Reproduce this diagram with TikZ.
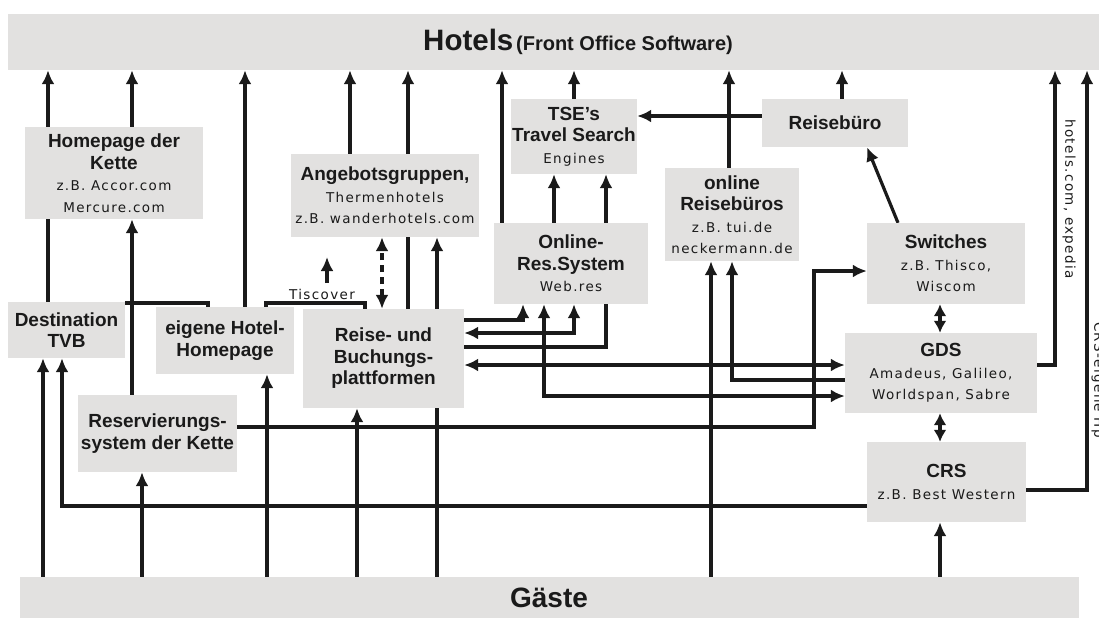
\documentclass[tikz,border=0pt]{standalone}
\usepackage{fontspec}
\setmainfont{Liberation Sans}
\newfontfamily\subfnt[LetterSpace=10]{DejaVu Sans}
\usetikzlibrary{arrows.meta}
\pgfdeclarelayer{background}
\pgfsetlayers{background,main}
\definecolor{boxgray}{RGB}{226,225,224}
\definecolor{linec}{RGB}{26,26,26}
\newcommand\lblB{\fontsize{19}{21.5}\selectfont\bfseries}
\newcommand\lblS{\subfnt\fontsize{13.5}{21.5}\selectfont}
\begin{document}
\begin{tikzpicture}[x=1pt,y=-1pt,
  box/.style={fill=boxgray, inner sep=0pt, align=center, text=linec, font=\fontsize{19}{21.5}\selectfont},
  conn/.style={draw=linec, line width=3.2pt},
  arr/.style={conn, -{Latex[length=14pt,width=13pt]}},
  darr/.style={conn, {Latex[length=14pt,width=13pt]}-{Latex[length=14pt,width=13pt]}},
  sdarr/.style={conn, {Latex[length=12pt,width=13pt]}-{Latex[length=12pt,width=13pt]}},
  lbl/.style={inner sep=0pt, text=linec, font=\lblS},
]
\useasboundingbox (0,0) rectangle (1099,619);

% bars
\node[box, minimum width=1091pt, minimum height=56pt] (hotels) at (553.5,42) {};
\node[inner sep=0pt, text=linec] (title) at (578,42) {{\fontsize{29.5}{32}\selectfont\bfseries Hotels} {\fontsize{20}{22}\selectfont\bfseries (Front Office Software)}};
\node[box, minimum width=1059pt, minimum height=41pt] (gaeste) at (549,597.5) {\fontsize{28}{30}\selectfont\bfseries Gäste};

% boxes
\node[box, minimum width=178pt, minimum height=92pt] (hpk) at (114,173)
  {\lblB Homepage der\\\lblB Kette\\\lblS z.B. Accor.com\\\lblS Mercure.com};
\node[box, minimum width=117pt, minimum height=56pt] (tvb) at (66.5,330)
  {\lblB Destination\\\lblB TVB};
\node[box, minimum width=138pt, minimum height=67pt] (ehh) at (225,340.5)
  {\lblB eigene Hotel-\\\lblB Homepage};
\node[box, minimum width=159pt, minimum height=77pt] (rsk) at (157.5,433.5)
  {\lblB Reservierungs-\\\lblB system der Kette};
\node[box, minimum width=188pt, minimum height=83pt] (ang) at (385,195.5)
  {\lblB Angebotsgruppen,\\\lblS Thermenhotels\\\lblS z.B. wanderhotels.com};
\node[box, minimum width=161pt, minimum height=99pt] (rbp) at (383.5,358.5)
  {\lblB Reise- und\\\lblB Buchungs-\\\lblB plattformen};
\node[box, minimum width=154pt, minimum height=81pt] (ors) at (571,263.5)
  {\lblB Online-\\\lblB Res.System\\\lblS Web.res};
\node[box, minimum width=126pt, minimum height=75pt] (tse) at (574,136.5)
  {\lblB TSE's\\\lblB Travel Search\\\lblS Engines};
\node[box, minimum width=134pt, minimum height=93pt] (orb) at (732,214.5)
  {\lblB online\\\lblB Reisebüros\\\lblS z.B. tui.de\\\lblS neckermann.de};
\node[box, minimum width=146pt, minimum height=48pt] (rb) at (835,123)
  {\lblB Reisebüro};
\node[box, minimum width=158pt, minimum height=81pt] (sw) at (946,263.5)
  {\lblB Switches\\\lblS z.B. Thisco,\\\lblS Wiscom};
\node[box, minimum width=192pt, minimum height=80pt] (gds) at (941,373)
  {\lblB GDS\\\lblS Amadeus, Galileo,\\\lblS Worldspan, Sabre};
\node[box, minimum width=159pt, minimum height=80pt] (crs) at (946.5,482)
  {\lblB CRS\\\lblS z.B. Best Western};

% labels
\node[lbl] (tisc) at (322,294) {Tiscover};
\node[lbl, rotate=-90] (lblexp) at (1069,199) {hotels.com, expedia};
\node[lbl, rotate=-90] (lblcrs) at (1098,380) {CRS-eigene Hp};

% helper coordinates
\foreach \x in {43,48,62,132,142,208,245,266,267,327,350,357,365,382,408,437,502,523,544,554,574,606,711,729,732,814,842,867,898,940,1055,1087}
  \coordinate (v\x) at (\x,0);
\foreach \y in {116,271,303,320,333,347,365,380,396,427,490,506}
  \coordinate (h\y) at (0,\y);
\coordinate (tisbot) at (327,283);
\coordinate (tistop) at (327,257);

\begin{pgfonlayer}{background}
\draw[arr] (tvb.north -| v48) -- (hotels.south -| v48);
\draw[arr] (hpk.north -| v132) -- (hotels.south -| v132);
\draw[arr] (rsk.north -| v132) -- (hpk.south -| v132);
\draw[conn] (tvb.east |- h303) -- (v208 |- h303) -- (ehh.north -| v208);
\draw[arr] (ehh.north -| v245) -- (hotels.south -| v245);
\draw[conn] (ehh.north -| v266) -- (v266 |- h303) -- (v365 |- h303) -- (rbp.north -| v365);
\draw[arr] (tisbot) -- (tistop);
\draw[arr] (ang.north -| v350) -- (hotels.south -| v350);
\draw[arr] (rbp.north -| v408) -- (hotels.south -| v408);
\draw[darr, dash pattern=on 7pt off 5pt] (rbp.north -| v382) -- (ang.south -| v382);
\draw[arr] (gaeste.north -| v437) -- (ang.south -| v437);
\draw[arr] (gaeste.north -| v357) -- (rbp.south -| v357);
\draw[arr] (gaeste.north -| v43) -- (tvb.south -| v43);
\draw[arr] (gaeste.north -| v142) -- (rsk.south -| v142);
\draw[arr] (gaeste.north -| v267) -- (ehh.south -| v267);
\draw[arr] (gaeste.north -| v711) -- (orb.south -| v711);
\draw[arr] (gaeste.north -| v940) -- (crs.south -| v940);
\draw[arr] (crs.west |- h506) -- (v62 |- h506) -- (tvb.south -| v62);
\draw[arr] (rsk.east |- h427) -- (v814 |- h427) -- (v814 |- h271) -- (sw.west |- h271);
\draw[arr] (ors.north -| v502) -- (hotels.south -| v502);
\draw[arr] (ors.north -| v554) -- (tse.south -| v554);
\draw[arr] (ors.north -| v606) -- (tse.south -| v606);
\draw[arr] (tse.north -| v574) -- (hotels.south -| v574);
\draw[arr] (rb.west |- h116) -- (tse.east |- h116);
\draw[arr] (orb.north -| v729) -- (hotels.south -| v729);
\draw[arr] (rb.north -| v842) -- (hotels.south -| v842);
\draw[arr] (sw.north -| v898) -- (rb.south -| v867);
\draw[sdarr] (sw.south -| v940) -- (gds.north -| v940);
\draw[sdarr] (gds.south -| v940) -- (crs.north -| v940);
\draw[arr] (gds.east |- h365) -- (v1055 |- h365) -- (hotels.south -| v1055);
\draw[arr] (crs.east |- h490) -- (v1087 |- h490) -- (hotels.south -| v1087);
\draw[arr] (gds.west |- h380) -- (v732 |- h380) -- (orb.south -| v732);
\draw[darr] (rbp.east |- h365) -- (gds.west |- h365);
\draw[darr] (ors.south -| v544) -- (v544 |- h396) -- (gds.west |- h396);
\draw[arr] (rbp.east |- h320) -- (v523 |- h320) -- (ors.south -| v523);
\draw[darr] (rbp.east |- h333) -- (v574 |- h333) -- (ors.south -| v574);
\draw[conn] (rbp.east |- h347) -- (v606 |- h347) -- (ors.south -| v606);
\end{pgfonlayer}
\end{tikzpicture}
\end{document}
